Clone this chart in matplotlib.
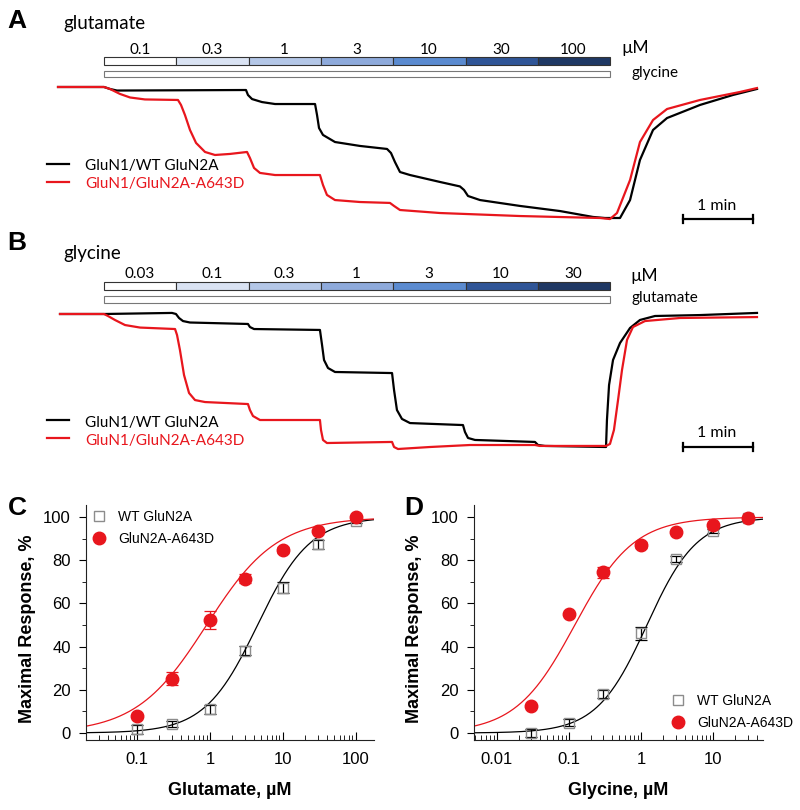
import numpy as np
import matplotlib
matplotlib.use("Agg")
import matplotlib.pyplot as plt
from matplotlib.patches import Rectangle

plt.rcParams['font.family'] = ['Liberation Sans', 'DejaVu Sans']

RED = '#e8161d'
TRACE_FONT = ['Lato', 'DejaVu Sans']

# ---- traces (time in s, current in % of maximal inward current) ----
# panel A: glutamate steps
a_wt_t = [-39.4, 0, 5.1, 11.1, 121.7, 123.4, 126.9, 135.4, 146.6, 180.9, 182.6, 184.3, 187.7,
          198.0, 219.4, 242.6, 246.0, 249.4, 253.7, 262.3, 288.0, 305.1, 308.6, 312.0, 322.3,
          356.6, 390.9, 419.1, 429.4, 442.3, 450.9, 459.4, 470.6, 482.6, 510.9, 539.1, 559.7]
a_wt_i = [0, 0, -1.5, -2.7, -2.3, -6.1, -9.2, -11.5, -13.0, -13.0, -21.4, -31.3, -36.6,
          -42.0, -45.0, -47.3, -50.4, -57.3, -64.9, -67.2, -72.5, -75.9, -78.6, -83.2, -86.3,
          -90.8, -94.7, -99.2, -100, -100, -86.3, -55.7, -32.8, -23.7, -13.7, -6.1, -1.5]
a_mut_t = [-39.4, 0, 5.1, 13.7, 22.3, 35.1, 63.4, 66.0, 69.4, 73.7, 78.9, 86.6, 95.1, 108.0,
           122.6, 125.1, 128.6, 133.7, 146.6, 185.1, 187.7, 191.1, 198.0, 219.4, 245.1, 248.6,
           253.7, 288.0, 356.6, 425.1, 433.7, 439.7, 450.9, 459.4, 470.6, 482.6, 510.9, 545.1, 559.7]
a_mut_i = [0, 0, -1.5, -5.3, -8.0, -9.5, -9.9, -13.7, -21.4, -32.8, -42.7, -49.6, -51.9, -51.1,
           -49.6, -54.2, -61.8, -65.6, -67.2, -67.2, -74.8, -82.4, -86.3, -87.8, -88.5, -90.8,
           -93.9, -96.2, -98.5, -100, -100.8, -96.2, -71.0, -42.0, -25.2, -16.8, -9.9, -3.8, -0.8]

# panel B: glycine steps
b_wt_t = [-37.7, 0, 58.3, 61.7, 64.3, 67.7, 73.7, 123.4, 125.1, 128.6, 185.1, 186.9, 188.6,
          192.0, 198.0, 246.9, 248.6, 251.1, 255.4, 262.3, 307.7, 309.4, 312.0, 318.0, 369.4,
          372.0, 378.0, 430.3, 431.1, 432.9, 436.3, 442.3, 450.9, 459.4, 472.3, 510.9, 559.7]
b_wt_i = [0, 0, 0.8, 0, -3.0, -5.3, -6.4, -7.5, -9.8, -11.3, -12.0, -23.3, -34.6,
          -40.6, -43.6, -44.4, -57.1, -72.2, -78.9, -82.0, -83.5, -88.7, -93.2, -94.7, -96.2,
          -98.5, -99.2, -100, -79.7, -53.4, -34.6, -21.8, -10.5, -4.5, -1.5, -0.8, 0.8]
b_mut_t = [-37.7, 0, 3.4, 9.4, 18.0, 30.9, 60.9, 62.6, 65.1, 68.6, 72.9, 78.0, 86.6, 123.4,
           125.1, 127.7, 133.7, 185.1, 186.0, 187.7, 191.1, 246.9, 248.6, 252.0, 279.4, 313.7,
           369.4, 373.7, 430.3, 433.7, 437.1, 440.6, 444.0, 448.3, 453.4, 463.7, 493.7, 559.7]
b_mut_i = [0, 0, -1.5, -4.5, -8.3, -10.2, -11.3, -15.8, -27.1, -45.9, -59.4, -64.7, -66.2,
           -67.7, -72.2, -76.7, -79.7, -79.7, -87.2, -94.7, -97.0, -96.2, -100, -101.5, -100,
           -98.5, -98.5, -99.2, -99.2, -97.7, -87.2, -64.7, -42.1, -19.5, -9.8, -5.3, -3.0, -2.3]

step_dur = 62.0
glu_steps = ['0.1', '0.3', '1', '3', '10', '30', '100']
gly_steps = ['0.03', '0.1', '0.3', '1', '3', '10', '30']
step_colors = ['#ffffff', '#dae3f3', '#b4c7e7', '#8eaadb', '#5b8bd0', '#2f5597', '#1f3864']

# ---- concentration-response ----
glu_conc = [0.1, 0.3, 1, 3, 10, 30, 100]
glu_wt = [1.7, 4.2, 11.0, 38.1, 67.3, 87.4, 98.1]
glu_wt_err = [2.0, 1.5, 2.0, 2.0, 2.5, 2.0, 1.0]
glu_mut = [7.9, 25.2, 52.3, 71.5, 84.7, 93.7, 99.9]
glu_mut_err = [1.0, 3.0, 4.0, 2.0, 1.5, 1.0, 1.0]
glu_fit_wt = (4.5, 1.2)     # EC50, nH
glu_fit_mut = (0.9, 0.9)

gly_conc = [0.03, 0.1, 0.3, 1, 3, 10, 30]
gly_wt = [0.0, 4.8, 18.0, 46.2, 80.5, 93.7, 99.7]
gly_wt_err = [2.0, 1.5, 2.0, 3.0, 1.5, 1.0, 0.5]
gly_mut = [12.6, 55.1, 74.5, 87.0, 93.2, 96.3, 99.7]
gly_mut_err = [1.0, 1.0, 2.5, 1.5, 1.0, 1.0, 0.5]
gly_fit_wt = (1.2, 1.25)
gly_fit_mut = (0.12, 1.06)

fig = plt.figure(figsize=(8, 8.1), dpi=100)


def ftxt(x, y, s, **kw):
    # text placed in figure pixels (origin top-left)
    fig.text(x / 800, 1 - y / 810, s, **kw)


def trace_panel(rect, ylim, wt_t, wt_i, mut_t, mut_i, steps, bar_y, bg_y, leg_y, sb_y):
    ax = fig.add_axes(rect)
    ax.set_xlim(-89.14, 596.57)
    ax.set_ylim(*ylim)
    ax.axis('off')
    ax.plot(wt_t, wt_i, color='black', lw=1.6)
    ax.plot(mut_t, mut_i, color=RED, lw=1.6)
    for k, c in enumerate(step_colors):
        ax.add_patch(Rectangle((k * step_dur, bar_y[0]), step_dur, bar_y[1] - bar_y[0],
                               facecolor=c, edgecolor='#333333', lw=0.8))
    ax.add_patch(Rectangle((0, bg_y[0]), step_dur * len(steps), bg_y[1] - bg_y[0],
                           facecolor='white', edgecolor='#777777', lw=0.8))
    ax.plot([-48.9, -30.0], [leg_y[0], leg_y[0]], color='black', lw=1.6)
    ax.plot([-48.9, -30.0], [leg_y[1], leg_y[1]], color=RED, lw=1.6)
    ax.plot([496.3, 556.3], [sb_y, sb_y], color='black', lw=1.6)
    for xe in (496.3, 556.3):
        ax.plot([xe, xe], [sb_y - 3, sb_y + 3], color='black', lw=1.6)
    return ax


trace_panel([0, 1 - 232 / 810, 1, 232 / 810], (-110.69, 66.41),
            a_wt_t, a_wt_i, a_mut_t, a_mut_i, glu_steps,
            (16.8, 22.7), (7.9, 12.4), (-59.0, -72.8), -100.8)
trace_panel([0, 1 - 460 / 810, 1, 228 / 810], (-109.77, 61.65),
            b_wt_t, b_wt_i, b_mut_t, b_mut_i, gly_steps,
            (18.0, 23.8), (8.5, 13.5), (-79.7, -93.2), -100.2)

# trace panel texts
for y0, title, steps, bgname, mu_x in [(0, 'glutamate', glu_steps, 'glycine', 621),
                                       (230, 'glycine', gly_steps, 'glutamate', 630)]:
    ftxt(63, y0 + 29, title, family=TRACE_FONT, fontsize=13.5, va='baseline')
    for k, s in enumerate(steps):
        ftxt(104 + 72.2 * (k + 0.5), y0 + (54.3 if y0 == 0 else 48.3), s, family=TRACE_FONT,
             fontsize=11, ha='center', va='baseline')
    ftxt(mu_x, y0 + (53.3 if y0 == 0 else 51), '\u00b5M', family=TRACE_FONT, fontsize=12.5,
         va='baseline')
    ftxt(632, y0 + (77 if y0 == 0 else 71.7), bgname, family=TRACE_FONT, fontsize=11,
         va='baseline')

ftxt(85, 170, 'GluN1/WT GluN2A', family=TRACE_FONT, fontsize=11, va='baseline')
ftxt(85, 188.3, 'GluN1/GluN2A-A643D', family=TRACE_FONT, fontsize=11, va='baseline', color=RED)
ftxt(85, 426.7, 'GluN1/WT GluN2A', family=TRACE_FONT, fontsize=11, va='baseline')
ftxt(85, 444.7, 'GluN1/GluN2A-A643D', family=TRACE_FONT, fontsize=11, va='baseline', color=RED)
ftxt(717, 209.5, '1 min', family=TRACE_FONT, fontsize=11.5, ha='center', va='baseline')
ftxt(717, 436.7, '1 min', family=TRACE_FONT, fontsize=11.5, ha='center', va='baseline')

for lbl, x, y in [('A', 17, 20.5), ('B', 17, 243.5), ('C', 17, 508), ('D', 414, 508)]:
    ftxt(x, y, lbl, fontsize=19, fontweight='bold', ha='center', va='center')


def hill(x, ec50, nh):
    return 100.0 / (1.0 + (ec50 / x) ** nh)


def dose_panel(rect, xlim, conc, wt, wt_err, mut, mut_err, fit_wt, fit_mut, xlabel,
               ticks, ticklabels, leg_anchor):
    ax = fig.add_axes(rect)
    ax.set_xscale('log')
    ax.set_xlim(*xlim)
    ax.set_ylim(-3.24, 105.6)
    xx = np.logspace(np.log10(xlim[0]), np.log10(xlim[1]), 300)
    ax.plot(xx, hill(xx, *fit_wt), color='black', lw=0.9)
    ax.plot(xx, hill(xx, *fit_mut), color=RED, lw=0.9)
    ax.errorbar(conc, wt, yerr=wt_err, fmt='none', ecolor='black', elinewidth=0.9,
                capsize=4.5, capthick=0.9)
    h1, = ax.plot(conc, wt, 's', ms=7.5, mfc='none', mec='#8c8c8c', mew=1.0,
                  label='WT GluN2A')
    ax.errorbar(conc, mut, yerr=mut_err, fmt='none', ecolor=RED, elinewidth=0.9,
                capsize=4.5, capthick=0.9)
    h2, = ax.plot(conc, mut, 'o', ms=9, color=RED, mec=RED, label='GluN2A-A643D')
    for s in ('top', 'right'):
        ax.spines[s].set_visible(False)
    for s in ('left', 'bottom'):
        ax.spines[s].set_color('#222222')
    ax.set_yticks([0, 20, 40, 60, 80, 100])
    ax.set_yticks([10, 30, 50, 70, 90], minor=True)
    ax.set_xticks(ticks)
    ax.set_xticklabels(ticklabels)
    ax.tick_params(axis='y', which='major', direction='out', length=5, labelsize=12, pad=6)
    ax.tick_params(axis='y', which='minor', direction='out', length=3)
    ax.tick_params(axis='x', which='major', direction='in', length=6, labelsize=12, pad=9)
    ax.tick_params(axis='x', which='minor', direction='in', length=3.5)
    ax.set_xlabel(xlabel, fontsize=13, fontweight='bold')
    ax.xaxis.set_label_coords(0.5, -0.18)
    ax.set_ylabel('Maximal Response, %', fontsize=13, fontweight='bold')
    ax.yaxis.set_label_coords(-0.175, 0.472)
    ax.legend(handles=[h1, h2], loc='upper left', bbox_to_anchor=leg_anchor, frameon=False,
              fontsize=10, handlelength=1.0, handletextpad=0.86, borderpad=0,
              borderaxespad=0, labelspacing=0.6, numpoints=1)
    return ax


dose_panel([86 / 800, 70 / 810, 288 / 800, 235 / 810], (0.02, 178), glu_conc, glu_wt,
           glu_wt_err, glu_mut, glu_mut_err, glu_fit_wt, glu_fit_mut, 'Glutamate, \u00b5M',
           [0.1, 1, 10, 100], ['0.1', '1', '10', '100'], (0.021, 0.979))
dose_panel([474 / 800, 70 / 810, 289 / 800, 235 / 810], (0.0048, 49), gly_conc, gly_wt,
           gly_wt_err, gly_mut, gly_mut_err, gly_fit_wt, gly_fit_mut, 'Glycine, \u00b5M',
           [0.01, 0.1, 1, 10], ['0.01', '0.1', '1', '10'], (0.682, 0.196))

fig.savefig('out.png', dpi=100)
